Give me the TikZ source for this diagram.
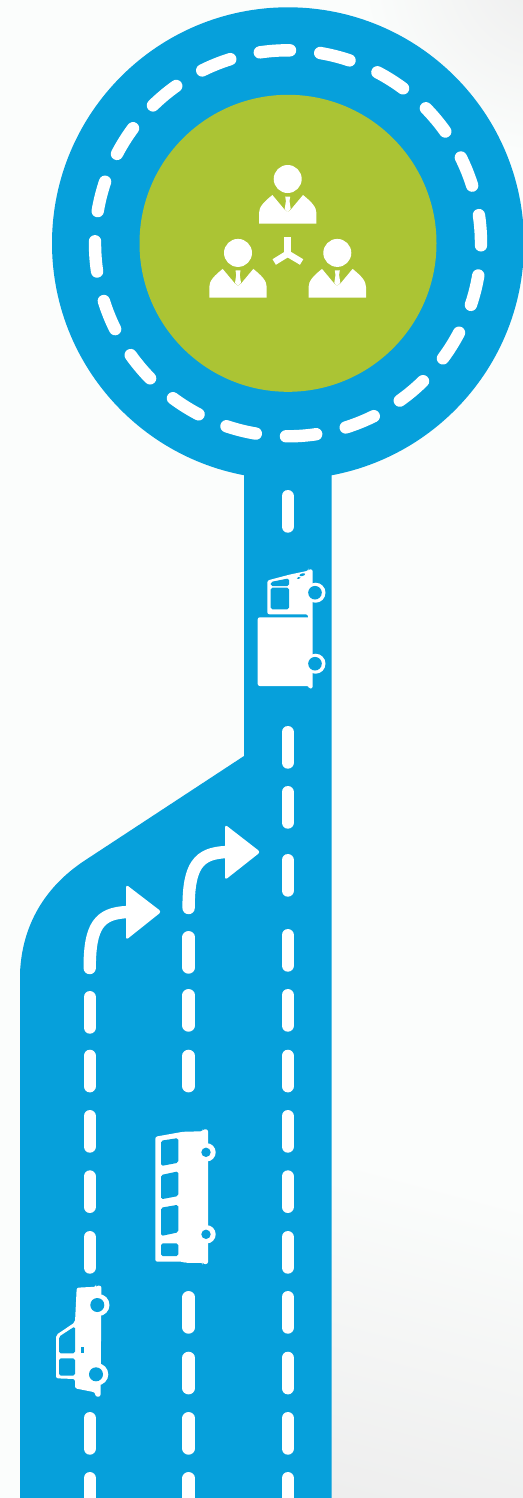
\documentclass[tikz,border=0pt]{standalone}
\usepackage{xcolor}
\usetikzlibrary{calc}
\definecolor{roadblue}{RGB}{6,160,219}
\definecolor{hubgreen}{RGB}{171,196,52}
\definecolor{bgpaper}{RGB}{251,253,252}
\definecolor{bggrey}{RGB}{237,237,237}

\begin{document}
\begin{tikzpicture}[
    x=0.02cm, y=-0.02cm,
    road/.style={fill=roadblue},
    lane/.style={draw=white, line width=0.248cm, line cap=round},
    shape white/.style={fill=white, rounded corners=1.2pt},
    shape blue/.style={fill=roadblue, rounded corners=1pt},
    fork arm/.style={draw=white, line width=0.13cm},
    person/.pic={
        \fill[white] (0,0) circle[radius=14];
        \fill[white] (-28.7,44.7) -- (-28.7,34) .. controls (-28.7,28) and (-24,23) .. (-15.3,16)
            -- (-3.2,30.5) -- (0,33) -- (3.2,30.5) -- (15.3,16)
            .. controls (24,23) and (28.7,28) .. (28.7,34) -- (28.7,44.7) -- cycle;
        \fill[white] (-2.5,17.5) -- (2.5,17.5) -- (1.8,22) -- (3,30) -- (0,33) -- (-3,30) -- (-1.8,22) -- cycle;
    }
]

\clip (0,0) rectangle (523,1498);
\fill[bgpaper] (0,0) rectangle (523,1498);
\shade[inner color=bggrey, outer color=bgpaper] (545,-30) circle[radius=185];
\shade[top color=bgpaper, middle color=bgpaper, bottom color=bggrey, shading angle=-15] (300,1170) rectangle (560,1550);

\coordinate (hub) at (288,243.3);

\fill[road] (hub) circle[radius=236];
\fill[road] (244,470) -- (244,756) -- (84,861) .. controls (45,887) and (22,925) .. (20,973)
    -- (20,1498) -- (331.5,1498) -- (331.5,470) -- cycle;
\fill[hubgreen] (hub) circle[radius=148.5];

\foreach \k in {0,...,19}
    \draw[lane] ($(hub)+({-98.4+18*\k}:193)$) arc[start angle={-98.4+18*\k}, end angle={-89.4+18*\k}, radius=193];

\foreach \y in {490,726,786,854,929,989,1049.7,1110,1170.3,1231,1291,1351.7,1412,1472}
    \draw[lane] (287.7,\y+6.2) -- (287.7,\y+36.5);
\foreach \y in {931,989,1049.7,1291,1351.7,1412,1472}
    \draw[lane] (188.6,\y+6.2) -- (188.6,\y+36.5);
\foreach \y in {991,1049.7,1110,1170.3,1231,1412,1472}
    \draw[lane] (89.7,\y+6.2) -- (89.7,\y+36.5);

\draw[lane] (89.7,968) .. controls (89.7,926) and (99,913) .. (128,912);
\fill[white, rounded corners=1.6pt] (126,884.5) -- (161.5,911.7) -- (126,940) -- cycle;
\draw[lane] (188.6,908) .. controls (188.6,866) and (198,853) .. (227,852);
\fill[white, rounded corners=1.6pt] (225,824.5) -- (260.5,852) -- (225,880) -- cycle;

\pic at (287.7,179) {person};
\pic at (238,252.9) {person};
\pic at (337.3,252.9) {person};

\coordinate (fork) at (287.7,253.7);
\draw[fork arm] (fork) -- (287.7,236.7);
\draw[fork arm] (fork) -- (274.2,262);
\draw[fork arm] (fork) -- (301.6,262);
\fill[white] (fork) circle[radius=3.5];

\fill[shape white] (267.3,580.5) -- (290,574.5) -- (308.3,570.7) -- (308.3,569.3) -- (312.7,569.3)
    -- (312.7,620) -- (308,620) -- (308,614.3) -- (267.3,614.3) -- cycle;
\fill[shape white] (257.7,617.3) -- (312.7,617.3) -- (312.7,688.5) -- (309,688.5) -- (309,686) -- (257.7,686) -- cycle;
\fill[shape blue] (270.7,582) -- (289,578.3) -- (289,586) -- (270.7,586) -- cycle;
\fill[shape blue] (270.7,587.7) -- (289,587.7) -- (289,609.3) -- (270.7,609.3) -- cycle;
\fill[roadblue, rotate around={15:(302.3,574.7)}] (302.3,574.7) ellipse[x radius=2.9, y radius=1.3];
\fill[roadblue, rotate around={15:(298.7,578)}] (298.7,578) ellipse[x radius=1.9, y radius=1];
\fill[white] (315.5,592.7) circle[radius=10];
\fill[roadblue] (315,592.7) circle[radius=6.8];
\fill[white] (315.5,663.7) circle[radius=10];
\fill[roadblue] (315,663.7) circle[radius=6.8];

\fill[shape white] (155.3,1136.7) -- (183.3,1131.7) -- (202.7,1131.3) -- (202.7,1129.3) -- (208,1129.3)
    -- (208,1264) -- (202.7,1264) -- (202.7,1262.7) -- (186,1263) -- (183,1261.7) -- (155.3,1261.7) -- cycle;
\fill[shape blue] (161,1140.7) -- (178.3,1138) -- (178.3,1162.7) -- (161,1166) -- cycle;
\fill[shape blue] (161,1175) -- (178.3,1171.3) -- (178.3,1196) -- (161,1199.3) -- cycle;
\fill[shape blue] (161,1207.7) -- (178.3,1204.7) -- (178.3,1232.3) -- (161,1236) -- cycle;
\fill[shape blue] (161,1243.3) -- (178.3,1243.3) -- (178.3,1256) -- (161,1256) -- cycle;
\fill[white] (206.5,1152.3) circle[radius=9.2];
\fill[roadblue] (206,1152.3) circle[radius=4.7];
\fill[white] (206.5,1234.3) circle[radius=9.2];
\fill[roadblue] (206,1234.3) circle[radius=4.7];

\fill[shape white] (76.7,1287.7) -- (96,1286.7) -- (96,1285.7) -- (101.5,1285.7) -- (100.5,1396.7) -- (95.5,1396.7)
    -- (95,1392.3) -- (75,1388.3) -- (75,1379) -- (56,1378.3) -- (56,1335) -- (75,1322.3) -- cycle;
\fill[shape blue] (59,1336.7) -- (75,1326.3) -- (75,1353.3) -- (59,1353.3) -- cycle;
\fill[shape blue] (59,1358.3) -- (75,1358.3) -- (75,1375.7) -- (59,1375.7) -- cycle;
\fill[roadblue] (80.7,1346.7) rectangle (84.3,1353.3);
\fill[white] (98.5,1305) circle[radius=11];
\fill[roadblue] (97.3,1305) circle[radius=7];
\fill[white] (97.3,1374.3) circle[radius=11];
\fill[roadblue] (96,1374.3) circle[radius=7];

\end{tikzpicture}
\end{document}
